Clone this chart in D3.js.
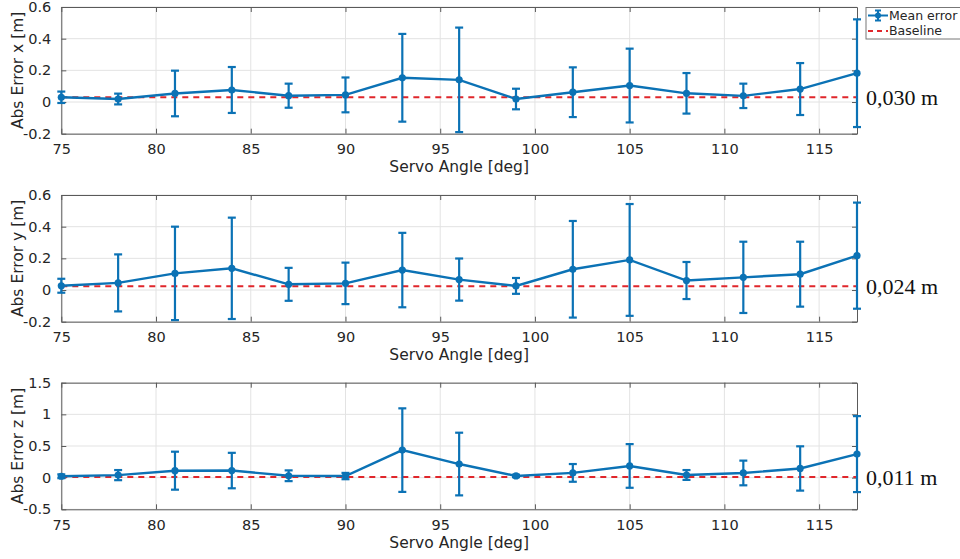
<!DOCTYPE html>
<html>
<head>
<meta charset="utf-8">
<script src="https://cdn.jsdelivr.net/npm/d3@7"></script>
<style>
  html, body { margin: 0; padding: 0; background: #fff; }
  svg { display: block; }
  text { font-family: "DejaVu Sans", sans-serif; fill: #262626; }
</style>
</head>
<body>
<svg id="chart" width="960" height="559"></svg>
<script>
// Servo angles (deg) at which the position error was measured
const angles = [75, 78, 81, 84, 87, 90, 93, 96, 99, 102, 105, 108, 111, 114, 117];

// Mean absolute error per axis [m]
const meanX = [0.030, 0.019, 0.054, 0.076, 0.040, 0.045, 0.153, 0.140, 0.019, 0.062, 0.104, 0.055, 0.039, 0.082, 0.182];
const meanY = [0.027, 0.045, 0.105, 0.137, 0.036, 0.042, 0.126, 0.066, 0.026, 0.131, 0.190, 0.060, 0.080, 0.100, 0.217];
const meanZ = [0.022, 0.040, 0.110, 0.112, 0.030, 0.025, 0.435, 0.215, 0.027, 0.075, 0.185, 0.042, 0.074, 0.145, 0.372];

// Standard deviation (error bar half-width) per axis [m]
const stdX = [0.036, 0.034, 0.144, 0.145, 0.076, 0.110, 0.277, 0.330, 0.065, 0.157, 0.233, 0.128, 0.077, 0.164, 0.340];
const stdY = [0.044, 0.180, 0.295, 0.320, 0.104, 0.131, 0.235, 0.133, 0.050, 0.305, 0.353, 0.117, 0.225, 0.205, 0.335];
const stdZ = [0.030, 0.080, 0.300, 0.280, 0.085, 0.050, 0.660, 0.495, 0.020, 0.140, 0.345, 0.078, 0.195, 0.350, 0.600];

// Baseline error per axis [m]
const baselines = [0.030, 0.024, 0.011];
const baselineLabels = ["0,030 m", "0,024 m", "0,011 m"];

// Axis text
const yLabels = ["Abs Error x [m]", "Abs Error y [m]", "Abs Error z [m]"];
const xLabel = "Servo Angle [deg]";
const xTicks = [75, 80, 85, 90, 95, 100, 105, 110, 115];
const yTicksXY = [-0.2, 0, 0.2, 0.4, 0.6];
const yTicksZ = [-0.5, 0, 0.5, 1, 1.5];
const legendLabels = ["Mean error", "Baseline"];

const panels = [
  { mean: meanX, std: stdX, domain: [-0.2, 0.6], ticks: yTicksXY, top: 7, bottom: 133.7 },
  { mean: meanY, std: stdY, domain: [-0.2, 0.6], ticks: yTicksXY, top: 195, bottom: 321.7 },
  { mean: meanZ, std: stdZ, domain: [-0.5, 1.5], ticks: yTicksZ, top: 382.7, bottom: 509.3 }
];

const BLUE = "#0b72b5";
const RED = "#e0262b";
const AXIS = "#5a5a5a";
const GRID = "#e3e3e3";
const left = 61.3, right = 857;

const svg = d3.select("#chart");
const x = d3.scaleLinear().domain([75, 117]).range([left, right]);

panels.forEach((p, i) => {
  const y = d3.scaleLinear().domain(p.domain).range([p.bottom, p.top]);
  const g = svg.append("g");

  // grid
  g.append("g").selectAll("line").data(xTicks).join("line")
    .attr("x1", d => x(d)).attr("x2", d => x(d))
    .attr("y1", p.top).attr("y2", p.bottom)
    .attr("stroke", GRID).attr("stroke-width", 1);
  g.append("g").selectAll("line").data(p.ticks).join("line")
    .attr("x1", left).attr("x2", right)
    .attr("y1", d => y(d)).attr("y2", d => y(d))
    .attr("stroke", GRID).attr("stroke-width", 1);

  // axes with inward ticks
  const fmt = d => String(d);
  const ax = g.append("g").attr("transform", `translate(0,${p.bottom})`)
    .call(d3.axisBottom(x).tickValues(xTicks).tickFormat(fmt).tickSizeInner(-5).tickSizeOuter(0).tickPadding(10));
  const ay = g.append("g").attr("transform", `translate(${left},0)`)
    .call(d3.axisLeft(y).tickValues(p.ticks).tickFormat(fmt).tickSizeInner(-5).tickSizeOuter(0).tickPadding(10));
  const axTop = g.append("g").attr("transform", `translate(0,${p.top})`)
    .call(d3.axisTop(x).tickValues(xTicks).tickFormat("").tickSizeInner(-5).tickSizeOuter(0));
  const ayRight = g.append("g").attr("transform", `translate(${right},0)`)
    .call(d3.axisRight(y).tickValues(p.ticks).tickFormat("").tickSizeInner(-5).tickSizeOuter(0));
  [ax, ay, axTop, ayRight].forEach(a => {
    a.select(".domain").attr("stroke", AXIS);
    a.selectAll(".tick line").attr("stroke", AXIS);
    a.selectAll(".tick text").attr("fill", "#262626")
      .style("font-family", "'DejaVu Sans', sans-serif").style("font-size", "14.5px");
  });

  // axis titles
  g.append("text")
    .attr("x", (left + right) / 2).attr("y", p.bottom + 38.5)
    .attr("text-anchor", "middle").style("font-size", "15.5px")
    .text(xLabel);
  g.append("text")
    .attr("transform", `translate(23,${(p.top + p.bottom) / 2}) rotate(-90)`)
    .attr("text-anchor", "middle").style("font-size", "15.5px")
    .text(yLabels[i]);

  // baseline
  g.append("line")
    .attr("x1", x(75)).attr("x2", x(117))
    .attr("y1", y(baselines[i])).attr("y2", y(baselines[i]))
    .attr("stroke", RED).attr("stroke-width", 2).attr("stroke-dasharray", "6,5");

  // error bars
  const pts = angles.map((a, k) => ({ a, m: p.mean[k], s: p.std[k] }));
  const eb = g.append("g").attr("stroke", BLUE).attr("stroke-width", 2.2);
  eb.selectAll("line.v").data(pts).join("line").attr("class", "v")
    .attr("x1", d => x(d.a)).attr("x2", d => x(d.a))
    .attr("y1", d => y(d.m - d.s)).attr("y2", d => y(d.m + d.s));
  eb.selectAll("line.t").data(pts).join("line").attr("class", "t")
    .attr("x1", d => x(d.a) - 4).attr("x2", d => x(d.a) + 4)
    .attr("y1", d => y(d.m + d.s)).attr("y2", d => y(d.m + d.s));
  eb.selectAll("line.b").data(pts).join("line").attr("class", "b")
    .attr("x1", d => x(d.a) - 4).attr("x2", d => x(d.a) + 4)
    .attr("y1", d => y(d.m - d.s)).attr("y2", d => y(d.m - d.s));

  // mean line and markers
  g.append("path").datum(pts)
    .attr("fill", "none").attr("stroke", BLUE).attr("stroke-width", 2.4)
    .attr("d", d3.line().x(d => x(d.a)).y(d => y(d.m)));
  g.append("g").selectAll("circle").data(pts).join("circle")
    .attr("cx", d => x(d.a)).attr("cy", d => y(d.m)).attr("r", 3.6)
    .attr("fill", BLUE);

  // baseline value label
  g.append("text")
    .attr("x", 866).attr("y", y(baselines[i]) + 8)
    .style("font-family", "'Liberation Serif', 'Times New Roman', serif")
    .style("font-size", "22px").style("fill", "#111")
    .text(baselineLabels[i]);
});

// legend
const lg = svg.append("g");
lg.append("rect").attr("x", 866).attr("y", 7.5).attr("width", 110).attr("height", 31.5)
  .attr("fill", "#fff").attr("stroke", "#777").attr("stroke-width", 1);
lg.append("line").attr("x1", 868).attr("x2", 888).attr("y1", 15.5).attr("y2", 15.5)
  .attr("stroke", BLUE).attr("stroke-width", 2);
lg.append("line").attr("x1", 878).attr("x2", 878).attr("y1", 10.5).attr("y2", 20.5)
  .attr("stroke", BLUE).attr("stroke-width", 2);
lg.append("line").attr("x1", 875).attr("x2", 881).attr("y1", 10.5).attr("y2", 10.5)
  .attr("stroke", BLUE).attr("stroke-width", 2);
lg.append("line").attr("x1", 875).attr("x2", 881).attr("y1", 20.5).attr("y2", 20.5)
  .attr("stroke", BLUE).attr("stroke-width", 2);
lg.append("circle").attr("cx", 878).attr("cy", 15.5).attr("r", 3).attr("fill", BLUE);
lg.append("line").attr("x1", 868).attr("x2", 888).attr("y1", 31).attr("y2", 31)
  .attr("stroke", RED).attr("stroke-width", 2).attr("stroke-dasharray", "5,4");
lg.append("text").attr("x", 889).attr("y", 19.5).style("font-size", "12.5px").text(legendLabels[0]);
lg.append("text").attr("x", 889).attr("y", 35).style("font-size", "12.5px").text(legendLabels[1]);
</script>
</body>
</html>
